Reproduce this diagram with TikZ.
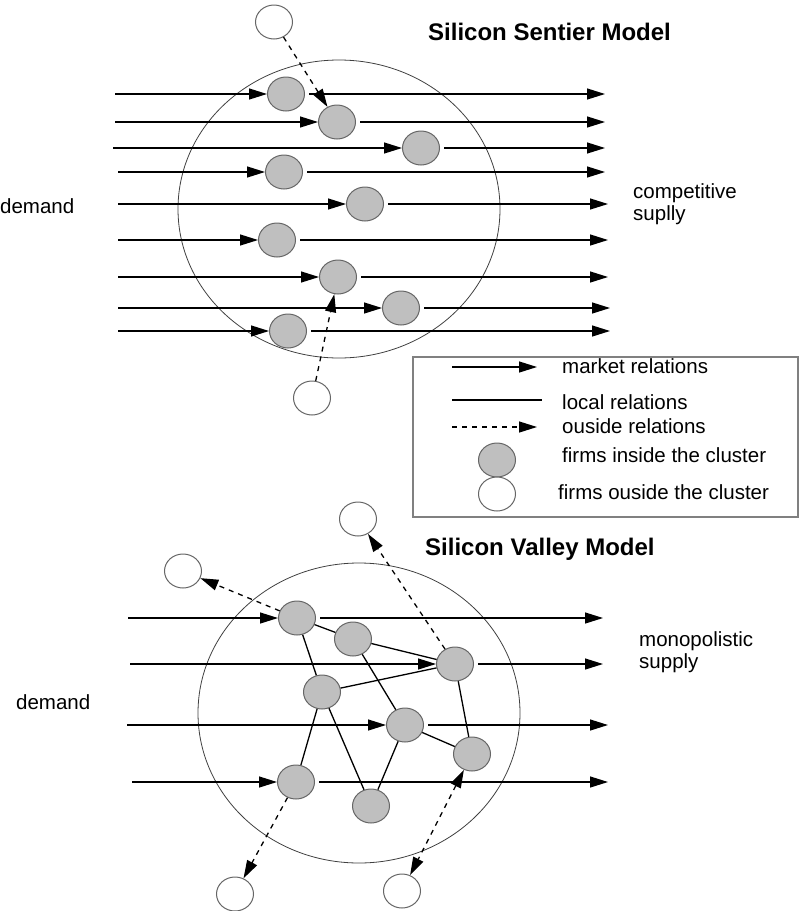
\documentclass[tikz,border=0pt]{standalone}
\usepackage{fontspec}
\setmainfont{Liberation Sans}
\usetikzlibrary{arrows.meta,shapes.geometric}

\begin{document}
\begin{tikzpicture}[x=1pt,y=-1pt,
    >={Triangle[length=18pt,width=11pt]},
    firm/.style={ellipse,draw=black!60,fill=black!25,line width=1pt,inner sep=0pt,minimum width=37pt,minimum height=34pt},
    outfirm/.style={firm,fill=white},
    cluster/.style={ellipse,draw=black!75,line width=0.8pt,inner sep=0pt},
    market/.style={->,line width=1.3pt},
    local/.style={line width=1.3pt},
    outside/.style={->,line width=1.3pt,dash pattern=on 5pt off 5pt},
    lbl/.style={font=\fontsize{20.5}{22}\selectfont,inner sep=0pt,align=left},
    ttl/.style={font=\fontsize{24}{28}\selectfont\bfseries,inner sep=0pt}]
        \useasboundingbox (0,0) rectangle (799,911);

        % Silicon Sentier Model
        \node[ttl,anchor=base west] (sentier) at (428,40) {Silicon Sentier Model};
        \node[cluster,minimum width=322pt,minimum height=298pt] (c1) at (339,209) {};
        \node[lbl,anchor=base west] (dem1) at (0,213) {demand};
        \node[lbl,anchor=base west] (sup1) at (633,220) {competitive\\suplly};

        % firms inside
        \node[firm] (g1) at (286,94) {};
        \node[firm] (g2) at (337,122) {};
        \node[firm] (g3) at (421,148) {};
        \node[firm] (g4) at (284,172) {};
        \node[firm] (g5) at (365,204) {};
        \node[firm] (g6) at (277,240) {};
        \node[firm] (g7) at (338,277) {};
        \node[firm] (g8) at (401,308) {};
        \node[firm] (g9) at (288,331) {};

        % firms outside
        \node[outfirm] (w1) at (274,22) {};
        \node[outfirm] (w2) at (312,398) {};

        % market relations
        \foreach \n/\y/\a/\b in {1/94/115/605, 2/122/115/605, 3/148/113/605, 4/172/118/605,
                5/204/118/608, 6/240/118/608, 7/277/118/608, 8/308/118/610, 9/331/118/610} {
          \coordinate (gd\n) at (\a,\y);
          \coordinate (gs\n) at (\b,\y);
          \draw[market] (gd\n) -- (g\n);
          \draw[market,shorten <=4pt] (g\n) -- (gs\n);
        }

        % outside relations
        \draw[outside] (w1) -- (g2);
        \draw[outside] (w2) -- (g7);

        % Legend
        \draw[black!50,line width=1.5pt] (413,357) rectangle (798,517);
        \coordinate (k1) at (452,367); \coordinate (k2) at (537,367);
        \coordinate (k3) at (452,400); \coordinate (k4) at (542,400);
        \coordinate (k5) at (452,427); \coordinate (k6) at (537,427);
        \draw[market] (k1) -- (k2);
        \draw[local] (k3) -- (k4);
        \draw[outside] (k5) -- (k6);
        \node[firm] (kin) at (497,460) {};
        \node[outfirm] (kout) at (497,494) {};
        \node[lbl,anchor=base west] (km) at (562,373) {market relations};
        \node[lbl,anchor=base west] (kl) at (562,409) {local relations};
        \node[lbl,anchor=base west] (ko) at (562,433) {ouside relations};
        \node[lbl,anchor=base west] (kfi) at (562,462) {firms inside the cluster};
        \node[lbl,anchor=base west] (kfo) at (558,499) {firms ouside the cluster};

        % Silicon Valley Model
        \node[ttl,anchor=base west] (valley) at (425,555) {Silicon Valley Model};
        \node[cluster,minimum width=322pt,minimum height=300pt] (c2) at (359,713) {};
        \node[lbl,anchor=base west] (dem2) at (16,709) {demand};
        \node[lbl,anchor=base west] (sup2) at (639,668) {monopolistic\\supply};

        % firms inside
        \node[firm] (b1) at (297,618) {};
        \node[firm] (b2) at (353,639) {};
        \node[firm] (b3) at (455,664) {};
        \node[firm] (b4) at (322,692) {};
        \node[firm] (b5) at (405,725) {};
        \node[firm] (b6) at (472,754) {};
        \node[firm] (b7) at (296,782) {};
        \node[firm] (b8) at (371,806) {};

        % firms outside
        \node[outfirm] (wt) at (358,519) {};
        \node[outfirm] (wl) at (183,571) {};
        \node[outfirm] (wbl) at (235,894) {};
        \node[outfirm] (wbr) at (402,891) {};

        % local relations
        \draw[local] (b1) -- (b2);
        \draw[local] (b1) -- (b4);
        \draw[local] (b2) -- (b3);
        \draw[local] (b2) -- (b5);
        \draw[local] (b4) -- (b3);
        \draw[local] (b4) -- (b7);
        \draw[local] (b4) -- (b8);
        \draw[local] (b5) -- (b8);
        \draw[local] (b5) -- (b6);
        \draw[local] (b3) -- (b6);

        % market relations
        \foreach \n/\y/\a/\b in {1/618/128/603, 3/664/130/603, 5/725/127/608, 7/782/132/608} {
          \coordinate (bd\n) at (\a,\y);
          \coordinate (bs\n) at (\b,\y);
          \draw[market] (bd\n) -- (b\n);
          \draw[market,shorten <=4pt] (b\n) -- (bs\n);
        }

        % outside relations
        \draw[outside] (b1) -- (wl);
        \draw[outside] (b3) -- (wt);
        \draw[outside] (b7) -- (wbl);
        \draw[outside,<->] (b6) -- (wbr);
      \end{tikzpicture}
\end{document}
